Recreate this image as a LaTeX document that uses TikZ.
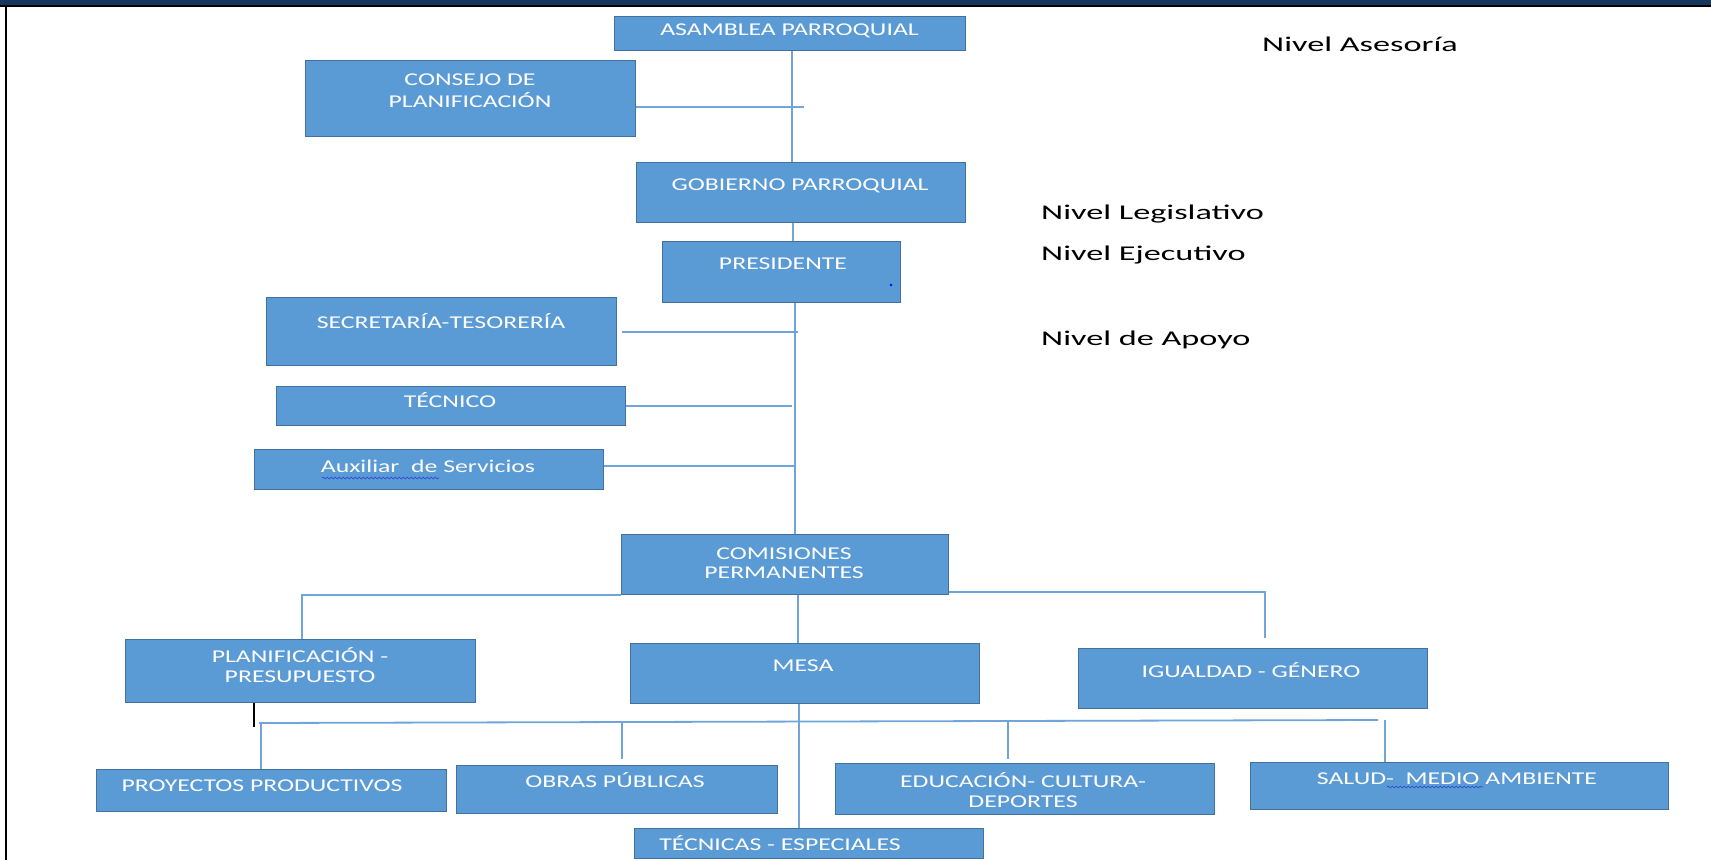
\documentclass[tikz,border=0pt]{standalone}
\usepackage{fontspec}
\setmainfont{Carlito}
\usetikzlibrary{decorations.pathmorphing}
\definecolor{boxfill}{HTML}{5B9BD5}
\definecolor{boxedge}{HTML}{41719C}
\definecolor{linec}{HTML}{6FA5DA}
\definecolor{navyc}{HTML}{17375E}
\definecolor{squig}{HTML}{2F4FD0}
\newcommand{\wb}[1]{\scalebox{1.43}[1]{#1}}
\newcommand{\wn}[1]{\scalebox{1.63}[1]{#1}}
\newcommand{\mkbox}[5]{\node[box, minimum width={#4pt-#2pt}, minimum height={#5pt-#3pt}] (#1) at (#2,#3) {};}
\begin{document}
\begin{tikzpicture}[x=1pt,y=-1pt,
 box/.style={draw=boxedge, fill=boxfill, line width=1.2pt, inner sep=0pt, anchor=north west},
 btxt/.style={text=white, font=\fontsize{18}{21}\selectfont, inner sep=0pt, anchor=base},
 ntxt/.style={text=black, font=\fontsize{21}{25}\selectfont, inner sep=0pt, anchor=base west},
 conn/.style={draw=linec, line width=1.8pt},
 squiggle/.style={draw=squig, line width=0.7pt, decorate, decoration={snake, amplitude=0.9pt, segment length=4pt}}
]
\useasboundingbox (0,0) rectangle (1711,860);
\fill[white] (0,0) rectangle (1711,860);
% frame
\fill[navyc] (0,0) rectangle (1711,5);
\fill[black] (0,5) rectangle (1711,7);
\fill[black] (5,5) rectangle (7,860);

% boxes
\mkbox{asam}{614}{16}{965}{50}
\mkbox{consejo}{305}{60}{635}{136}
\mkbox{gob}{636}{162}{965}{222}
\mkbox{pres}{662}{241}{900}{302}
\mkbox{secr}{266}{297}{616}{365}
\mkbox{tec}{276}{386}{625}{425}
\mkbox{aux}{254}{449}{603}{489}
\mkbox{com}{621}{534}{948}{594}
\mkbox{plan}{125}{639}{475}{702}
\mkbox{mesa}{630}{643}{979}{703}
\mkbox{igual}{1078}{648}{1427}{708}
\mkbox{proy}{96}{769}{446}{811}
\mkbox{obras}{456}{765}{777}{813}
\mkbox{tecesp}{634}{828}{983}{858}
\mkbox{edu}{835}{763}{1214}{814}
\mkbox{salud}{1250}{762}{1668}{809}

% box texts
\node[btxt] (asamT) at (789.5,35) {\wb{ASAMBLEA PARROQUIAL}};
\node[btxt] (consejoT1) at (470,85) {\wb{CONSEJO DE}};
\node[btxt] (consejoT2) at (470,107) {\wb{PLANIFICACIÓN}};
\node[btxt] (gobT) at (800,190) {\wb{GOBIERNO PARROQUIAL}};
\node[btxt] (presT) at (783,269) {\wb{PRESIDENTE}};
\node[btxt] (secrT) at (441,328) {\wb{SECRETARÍA-TESORERÍA}};
\node[btxt] (tecT) at (450,407) {\wb{TÉCNICO}};
\node[btxt] (auxT) at (428,472) {\wb{Auxiliar\ \ de Servicios}};
\node[btxt] (comT1) at (784,559) {\wb{COMISIONES}};
\node[btxt] (comT2) at (784,578) {\wb{PERMANENTES}};
\node[btxt] (planT1) at (300,662) {\wb{PLANIFICACIÓN -}};
\node[btxt] (planT2) at (300,682) {\wb{PRESUPUESTO}};
\node[btxt] (mesaT) at (803,671) {\wb{MESA}};
\node[btxt] (igualT) at (1251,677) {\wb{IGUALDAD - GÉNERO}};
\node[btxt] (proyT) at (262,791) {\wb{PROYECTOS PRODUCTIVOS}};
\node[btxt] (obrasT) at (615,787) {\wb{OBRAS PÚBLICAS}};
\node[btxt] (tecespT) at (780,850) {\wb{TÉCNICAS - ESPECIALES}};
\node[btxt] (eduT1) at (1023,787) {\wb{EDUCACIÓN- CULTURA-}};
\node[btxt] (eduT2) at (1023,807) {\wb{DEPORTES}};
\node[btxt] (saludT) at (1457,784) {\wb{SALUD-\ \ MEDIO AMBIENTE}};

% spell-check squiggles and stray dot
\draw[squiggle] (322,478) -- (439,478);
\draw[squiggle] (1387,787) -- (1483,787);
\fill[blue] (891,285) circle (1.3);

% level labels
\node[ntxt] (nAse) at (1262,51) {\wn{Nivel Asesoría}};
\node[ntxt] (nLeg) at (1041,219) {\wn{Nivel Legislativo}};
\node[ntxt] (nEje) at (1041,260) {\wn{Nivel Ejecutivo}};
\node[ntxt] (nApo) at (1041,345) {\wn{Nivel de Apoyo}};

% junction coordinates
\coordinate (xa) at (792,0);
\coordinate (jc) at (804,107);
\coordinate (xg) at (793,0);
\coordinate (xp) at (795,0);
\coordinate (js) at (798,332);
\coordinate (jss) at (622,332);
\coordinate (jt) at (792,406);
\coordinate (ja) at (795,466);
\coordinate (jl) at (302,595);
\coordinate (jr) at (1265,592);
\coordinate (jre) at (1265,638);
\coordinate (xm) at (798,0);
\coordinate (xm2) at (799,0);
\coordinate (xk) at (254,0);
\coordinate (ke) at (254,727);
\coordinate (hl) at (259,723);
\coordinate (hr) at (1378,720);
\coordinate (b1) at (261,723);
\coordinate (b2) at (622,723);
\coordinate (e2) at (622,759);
\coordinate (b3) at (1008,721);
\coordinate (e3) at (1008,759);
\coordinate (b4) at (1385,720);
\coordinate (e4) at (1385,762);

% connectors
\draw[conn] (asam.south -| xa) -- (gob.north -| xa);
\draw[conn] (consejo.east |- jc) -- (jc);
\draw[conn] (gob.south -| xg) -- (pres.north -| xg);
\draw[conn] (pres.south -| xp) -- (com.north -| xp);
\draw[conn] (jss) -- (js);
\draw[conn] (tec.east |- jt) -- (jt);
\draw[conn] (aux.east |- ja) -- (ja);
\draw[conn] (com.west |- jl) -- (jl) -- (plan.north -| jl);
\draw[conn] (com.east |- jr) -- (jr) -- (jre);
\draw[conn] (com.south -| xm) -- (mesa.north -| xm);
\draw[conn] (hl) -- (hr);
\draw[conn] (b1) -- (proy.north -| b1);
\draw[conn] (b2) -- (e2);
\draw[conn] (b3) -- (e3);
\draw[conn] (b4) -- (e4);
\draw[conn] (mesa.south -| xm2) -- (tecesp.north -| xm2);
\draw[black, line width=1.5pt] (plan.south -| xk) -- (ke);
\end{tikzpicture}
\end{document}
